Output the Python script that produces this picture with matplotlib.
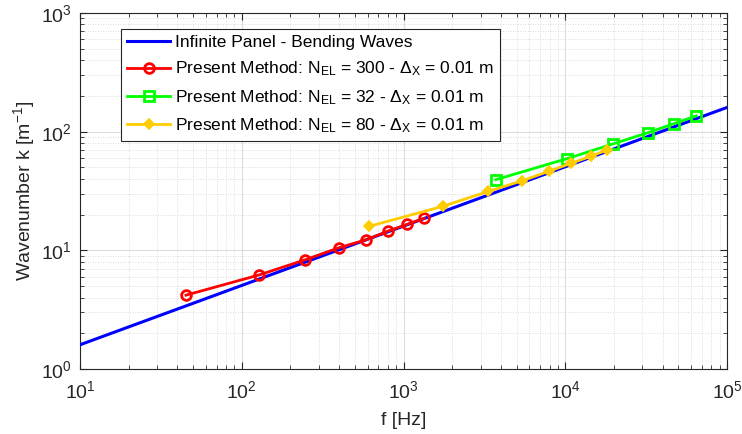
import matplotlib
matplotlib.use("Agg")
import matplotlib.pyplot as plt
from matplotlib.ticker import LogLocator, LogFormatterMathtext, NullFormatter

plt.rcParams['font.family'] = ['Liberation Sans', 'DejaVu Sans']
plt.rcParams['mathtext.fontset'] = 'custom'
plt.rcParams['mathtext.rm'] = 'Liberation Sans'
plt.rcParams['mathtext.it'] = 'Liberation Sans:italic'
plt.rcParams['mathtext.bf'] = 'Liberation Sans:bold'
plt.rcParams['mathtext.default'] = 'regular'

# Data
f_theory = [10, 1e5]
k_theory = [1.6, 160]

f_300 = [45.2, 128.5, 245, 398, 590, 800, 1057, 1340]
k_300 = [4.19, 6.21, 8.3, 10.5, 12.3, 14.5, 16.6, 18.6]

f_32 = [3720, 10240, 19860, 32400, 46700, 64600]
k_32 = [39.4, 59.2, 79.1, 97.9, 116.5, 136]

f_80 = [610, 1750, 3350, 5430, 7980, 10920, 14390, 18240]
k_80 = [15.9, 23.5, 31.4, 38.6, 46.5, 54.3, 61.9, 70.4]

labels = ['Infinite Panel - Bending Waves',
          r'Present Method: N$_{EL}$ = 300 - $\Delta_X$ = 0.01 m',
          r'Present Method: N$_{EL}$ = 32 - $\Delta_X$ = 0.01 m',
          r'Present Method: N$_{EL}$ = 80 - $\Delta_X$ = 0.01 m']

fig = plt.figure(figsize=(7.42, 4.34), dpi=100)
ax = fig.add_axes([80/742, 1-369/434, (727-80)/742, (369-13)/434])

ax.plot(f_theory, k_theory, color=(0, 0, 1), lw=2.2, label=labels[0], zorder=3)
ax.plot(f_300, k_300, color=(1, 0, 0), lw=2.0, marker='o', mfc='none', mew=2.0, ms=7, label=labels[1], zorder=4)
ax.plot(f_32, k_32, color=(0, 1, 0), lw=2.0, marker='s', mfc='none', mew=2.0, ms=6.5, label=labels[2], zorder=4)
ax.plot(f_80, k_80, color=(1, 0.8, 0), lw=2.0, marker='D', mfc=(1, 0.8, 0), mew=1.2, ms=5.5, label=labels[3], zorder=4)

ax.set_xscale('log')
ax.set_yscale('log')
ax.set_xlim(10, 1e5)
ax.set_ylim(1, 1e3)

ax.xaxis.set_major_locator(LogLocator(base=10, numticks=10))
ax.yaxis.set_major_locator(LogLocator(base=10, numticks=10))
ax.xaxis.set_minor_locator(LogLocator(base=10, subs=range(2, 10), numticks=20))
ax.yaxis.set_minor_locator(LogLocator(base=10, subs=range(2, 10), numticks=20))
ax.xaxis.set_major_formatter(LogFormatterMathtext())
ax.yaxis.set_major_formatter(LogFormatterMathtext())
ax.xaxis.set_minor_formatter(NullFormatter())
ax.yaxis.set_minor_formatter(NullFormatter())

ax.grid(True, which='major', color='#dcdcdc', lw=0.8, ls='-')
ax.grid(True, which='minor', color='#d0d0d0', lw=0.6, ls=(0, (1, 2)))
ax.set_axisbelow(True)

for s in ax.spines.values():
    s.set_color('#262626')
    s.set_linewidth(0.8)
ax.tick_params(which='both', direction='in', top=True, right=True, colors='#262626')
ax.tick_params(which='major', length=5, labelsize=14, labelcolor='#262626')
ax.tick_params(axis='x', which='major', pad=8)
ax.tick_params(axis='y', which='major', pad=6)
ax.tick_params(which='minor', length=3)

ax.set_xlabel('f [Hz]', fontsize=14, color='#262626', labelpad=7)
ax.set_ylabel(r'Wavenumber k [m$^{-1}$]', fontsize=14, color='#262626', labelpad=3)

leg = ax.legend(loc='upper left', fontsize=12.5, frameon=True, fancybox=False,
                edgecolor='#262626', framealpha=1,
                handlelength=2.5, handletextpad=0.25, borderpad=0.35, labelspacing=0.55,
                borderaxespad=0)
leg.get_frame().set_linewidth(0.8)
leg.set_bbox_to_anchor((121/742, 1 - 29/434), transform=fig.transFigure)

fig.savefig('out.png', dpi=100)
